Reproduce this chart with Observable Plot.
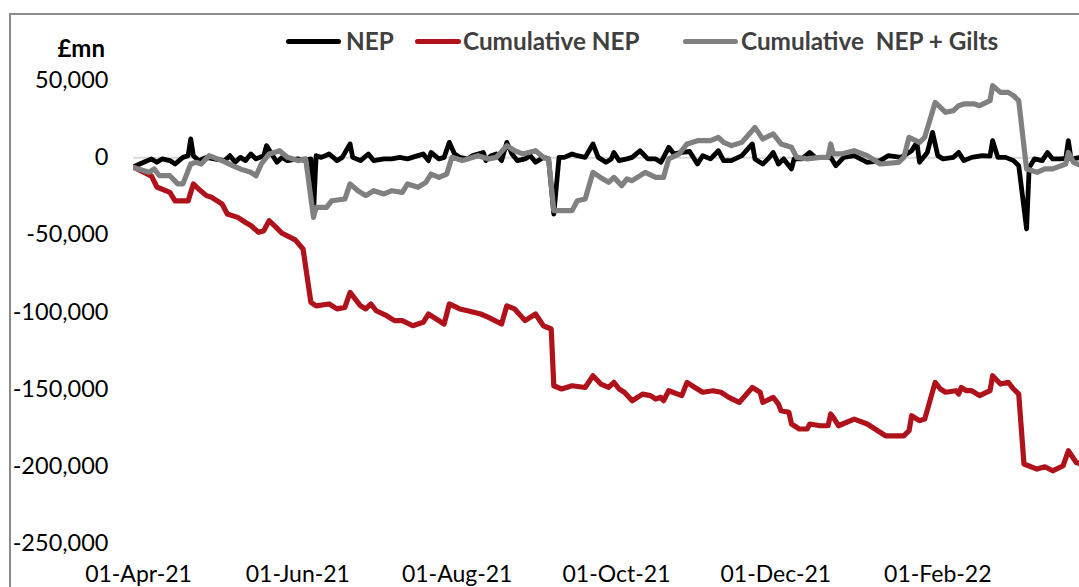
<!DOCTYPE html>
<html>
<head>
<meta charset="utf-8">
<script src="https://cdn.jsdelivr.net/npm/d3@7"></script>
<script src="https://cdn.jsdelivr.net/npm/@observablehq/plot@0.6"></script>
<style>
  body { margin: 0; background: #fff; }
  #wrap { position: relative; width: 1079px; height: 587px; overflow: hidden; font-family: Lato, "Open Sans", sans-serif; }
  #frame { position: absolute; left: 9px; top: 13px; width: 2000px; height: 2000px; border-left: 2px solid #8c8c8c; border-top: 2px solid #8c8c8c; box-sizing: border-box; pointer-events: none; }
  .unit { position: absolute; right: calc(1079px - 105px); top: 34px; font-weight: bold; font-size: 24px; color: #000; line-height: 28px; }
  .leg-line { position: absolute; height: 5px; border-radius: 3px; top: 39px; }
  .leg-text { position: absolute; top: 26px; line-height: 30px; font-weight: bold; font-size: 24.3px; color: #404040; white-space: pre; }
  svg { position: absolute; left: 0; top: 0; }
</style>
</head>
<body>
<div id="wrap">
  <div id="frame"></div>
</div>
<script>
// ---- Data (values in £mn) ----
const nepDates = ["2021-03-30","2021-03-31","2021-04-03","2021-04-06","2021-04-08","2021-04-10","2021-04-13","2021-04-15","2021-04-18","2021-04-20","2021-04-21","2021-04-22","2021-04-24","2021-04-27","2021-04-30","2021-05-04","2021-05-06","2021-05-08","2021-05-10","2021-05-12","2021-05-14","2021-05-16","2021-05-19","2021-05-20","2021-05-22","2021-05-24","2021-05-26","2021-05-28","2021-06-01","2021-06-04","2021-06-06","2021-06-07","2021-06-08","2021-06-10","2021-06-13","2021-06-16","2021-06-18","2021-06-21","2021-06-22","2021-06-25","2021-06-28","2021-06-30","2021-07-04","2021-07-07","2021-07-10","2021-07-13","2021-07-17","2021-07-19","2021-07-21","2021-07-22","2021-07-25","2021-07-27","2021-07-29","2021-07-31","2021-08-02","2021-08-05","2021-08-07","2021-08-11","2021-08-12","2021-08-14","2021-08-16","2021-08-18","2021-08-20","2021-08-22","2021-08-24","2021-08-27","2021-08-29","2021-08-31","2021-09-03","2021-09-05","2021-09-07","2021-09-09","2021-09-11","2021-09-14","2021-09-16","2021-09-19","2021-09-22","2021-09-24","2021-09-27","2021-09-29","2021-09-30","2021-10-02","2021-10-05","2021-10-07","2021-10-10","2021-10-13","2021-10-16","2021-10-18","2021-10-21","2021-10-23","2021-10-26","2021-10-29","2021-11-01","2021-11-03","2021-11-06","2021-11-09","2021-11-11","2021-11-14","2021-11-18","2021-11-22","2021-11-23","2021-11-26","2021-11-28","2021-11-30","2021-12-02","2021-12-04","2021-12-07","2021-12-08","2021-12-11","2021-12-14","2021-12-16","2021-12-22","2021-12-24","2021-12-27","2021-12-31","2022-01-05","2022-01-10","2022-01-13","2022-01-18","2022-01-22","2022-01-24","2022-01-25","2022-01-28","2022-01-30","2022-02-01","2022-02-03","2022-02-07","2022-02-09","2022-02-11","2022-02-14","2022-02-18","2022-02-21","2022-02-22","2022-02-24","2022-02-27","2022-03-02","2022-03-04","2022-03-07","2022-03-08","2022-03-10","2022-03-13","2022-03-15","2022-03-17","2022-03-20","2022-03-22","2022-03-23","2022-03-24","2022-03-28"];
const nepValues = [-6000,-5200,-3000,-800,-3000,-800,-1900,-4100,200,1300,12100,1300,-1900,200,-800,-1900,1300,-3000,200,-1900,2400,-800,1300,7800,2400,-3000,200,-1900,-800,-1900,-800,-36000,1300,200,2400,-1900,200,8900,200,-1900,2400,-1900,-800,-800,200,-800,1300,2400,-1900,3400,-800,200,9900,2400,200,-800,1300,3400,-1900,1300,2400,-1900,9900,2400,-1900,-800,1300,-3000,200,-800,-36500,200,200,2400,1300,200,8900,200,-3000,-800,3400,-1900,-800,200,4500,-800,-800,-3000,6700,2400,3400,4000,-4100,1300,-800,4500,-1900,-1900,1300,8900,-800,-4100,-800,3400,-4100,-800,-7300,-800,-800,3400,200,200,-5200,200,1300,-3000,-1900,1300,200,4500,9900,-3000,3400,16400,1300,-800,200,3400,-1900,200,1300,1000,11000,200,200,-1900,-5200,-46200,-6300,-800,-1900,3400,-800,-800,-500,11000,-800,200];

const cumDates = ["2021-03-30","2021-04-06","2021-04-08","2021-04-13","2021-04-15","2021-04-20","2021-04-22","2021-04-24","2021-04-27","2021-04-29","2021-05-03","2021-05-05","2021-05-09","2021-05-12","2021-05-14","2021-05-17","2021-05-19","2021-05-21","2021-05-23","2021-05-26","2021-05-31","2021-06-03","2021-06-06","2021-06-08","2021-06-13","2021-06-16","2021-06-19","2021-06-21","2021-06-25","2021-06-27","2021-06-29","2021-07-01","2021-07-05","2021-07-08","2021-07-11","2021-07-15","2021-07-19","2021-07-21","2021-07-24","2021-07-27","2021-07-29","2021-08-02","2021-08-05","2021-08-10","2021-08-13","2021-08-18","2021-08-20","2021-08-23","2021-08-27","2021-08-31","2021-09-03","2021-09-06","2021-09-07","2021-09-10","2021-09-14","2021-09-19","2021-09-22","2021-09-25","2021-09-28","2021-09-30","2021-10-02","2021-10-04","2021-10-07","2021-10-11","2021-10-14","2021-10-16","2021-10-18","2021-10-19","2021-10-21","2021-10-26","2021-10-28","2021-10-31","2021-11-03","2021-11-07","2021-11-10","2021-11-13","2021-11-17","2021-11-22","2021-11-25","2021-11-26","2021-11-30","2021-12-02","2021-12-03","2021-12-06","2021-12-07","2021-12-10","2021-12-13","2021-12-14","2021-12-18","2021-12-21","2021-12-22","2021-12-23","2021-12-25","2021-12-31","2022-01-05","2022-01-12","2022-01-19","2022-01-21","2022-01-22","2022-01-25","2022-01-27","2022-01-31","2022-02-02","2022-02-04","2022-02-08","2022-02-09","2022-02-10","2022-02-12","2022-02-14","2022-02-17","2022-02-21","2022-02-22","2022-02-25","2022-02-28","2022-03-02","2022-03-04","2022-03-06","2022-03-11","2022-03-14","2022-03-17","2022-03-21","2022-03-23","2022-03-26","2022-03-28"];
const cumValues = [-6000,-12000,-19000,-22500,-28000,-28000,-17000,-20300,-24600,-25700,-30000,-36500,-38700,-42000,-44000,-48400,-47300,-40800,-44000,-49000,-53300,-59200,-93800,-96000,-94800,-98000,-97000,-87300,-96000,-98000,-94800,-99200,-102400,-105600,-105600,-108900,-106700,-101300,-104500,-107800,-94800,-98000,-99200,-101300,-103500,-107800,-96000,-98000,-105600,-101300,-108900,-111000,-147800,-149900,-147800,-148900,-141300,-146700,-148900,-145600,-149900,-152000,-157500,-153200,-154200,-156400,-155300,-157500,-151000,-154200,-145600,-148900,-152000,-151000,-152000,-155300,-158600,-148900,-152000,-158600,-155300,-159700,-164000,-165000,-172600,-175800,-175800,-172600,-173700,-173700,-166100,-168300,-173700,-169400,-172600,-180200,-180200,-176900,-167200,-170400,-169400,-145600,-149900,-152000,-151000,-153200,-148900,-151000,-151000,-154200,-151000,-141300,-146700,-145600,-149900,-153200,-198500,-201800,-200300,-202900,-199600,-189900,-197500,-198500];

const giltDates = ["2021-03-30","2021-04-05","2021-04-07","2021-04-09","2021-04-13","2021-04-16","2021-04-18","2021-04-21","2021-04-23","2021-04-25","2021-04-28","2021-05-03","2021-05-07","2021-05-10","2021-05-12","2021-05-14","2021-05-16","2021-05-18","2021-05-21","2021-05-23","2021-05-25","2021-05-28","2021-06-01","2021-06-04","2021-06-07","2021-06-08","2021-06-12","2021-06-14","2021-06-19","2021-06-21","2021-06-24","2021-06-27","2021-06-30","2021-07-04","2021-07-07","2021-07-11","2021-07-13","2021-07-17","2021-07-20","2021-07-22","2021-07-25","2021-07-28","2021-07-30","2021-08-03","2021-08-09","2021-08-13","2021-08-16","2021-08-20","2021-08-23","2021-08-26","2021-08-31","2021-09-03","2021-09-05","2021-09-07","2021-09-11","2021-09-14","2021-09-16","2021-09-19","2021-09-22","2021-09-25","2021-09-28","2021-09-30","2021-10-03","2021-10-05","2021-10-07","2021-10-12","2021-10-16","2021-10-19","2021-10-21","2021-10-25","2021-10-28","2021-11-01","2021-11-06","2021-11-09","2021-11-11","2021-11-14","2021-11-18","2021-11-23","2021-11-26","2021-11-30","2021-12-03","2021-12-07","2021-12-09","2021-12-13","2021-12-18","2021-12-21","2021-12-22","2021-12-23","2021-12-26","2021-12-31","2022-01-05","2022-01-10","2022-01-17","2022-01-19","2022-01-21","2022-01-25","2022-01-27","2022-01-31","2022-02-04","2022-02-07","2022-02-09","2022-02-11","2022-02-15","2022-02-17","2022-02-21","2022-02-22","2022-02-25","2022-02-28","2022-03-02","2022-03-04","2022-03-07","2022-03-11","2022-03-14","2022-03-17","2022-03-22","2022-03-23","2022-03-25","2022-03-28"];
const giltValues = [-6300,-9500,-7300,-11700,-11700,-17000,-17000,-4100,-3000,-4100,1300,-1900,-5200,-7300,-8400,-9500,-11700,-4100,2400,3400,4500,200,-1900,-800,-38700,-32200,-32200,-27900,-26800,-17000,-21400,-24600,-21400,-23500,-21400,-22500,-17000,-19200,-16000,-10600,-12800,-10600,200,-1900,1300,-800,200,7800,4500,2400,4500,200,-800,-34300,-34300,-34300,-27900,-26800,-9500,-13000,-16000,-12800,-18100,-13800,-14900,-9500,-12800,-12800,-800,2400,8900,11000,11000,13200,9900,7800,9900,19600,12100,15400,8900,6700,200,-800,200,200,8900,2400,2400,4500,1300,-4100,-3000,200,13200,9900,13200,35800,29400,30500,33700,34800,34800,33700,36900,46700,42300,42300,40200,36900,-7300,-9500,-7300,-7300,-4100,3400,-3000,-5200];

const xTicks = ["2021-04-01","2021-06-01","2021-08-01","2021-10-01","2021-12-01","2022-02-01"];
const yTicks = [-250000,-200000,-150000,-100000,-50000,0,50000];

const seriesNames = ["NEP","Cumulative NEP","Cumulative  NEP + Gilts"];
const seriesColors = ["#000000","#b0121b","#808080"];

// ---- Build tables ----
const parse = d3.utcParse("%Y-%m-%d");
const nep = nepDates.map((d, i) => ({date: parse(d), value: nepValues[i]}));
const cum = cumDates.map((d, i) => ({date: parse(d), value: cumValues[i]}));
const gilt = giltDates.map((d, i) => ({date: parse(d), value: giltValues[i]}));

const chart = Plot.plot({
  width: 1079,
  height: 587,
  marginLeft: 133,
  marginRight: 0,
  marginTop: 80,
  marginBottom: 44,
  style: {fontFamily: "Lato, 'Open Sans', sans-serif", color: "#000", background: "transparent", overflow: "visible"},
  x: {
    type: "utc",
    domain: [new Date(Date.UTC(2021, 2, 30, 2)), new Date(Date.UTC(2022, 2, 27, 6, 15))]
  },
  y: {
    domain: [-250000, 50000]
  },
  marks: [
    Plot.axisY({ticks: yTicks, tickFormat: d => d.toLocaleString("en-US"), tickSize: 0, tickPadding: 25, fontSize: 23.5, label: null}),
    Plot.axisX({ticks: xTicks.map(parse), tickFormat: d3.utcFormat("%d-%b-%y"), tickSize: 0, tickPadding: 22, fontSize: 23, label: null}),
    Plot.ruleY([0], {stroke: "#d9d9d9", strokeWidth: 2}),
    Plot.line(nep, {x: "date", y: "value", stroke: seriesColors[0], strokeWidth: 4.8, strokeLinejoin: "round", clip: true}),
    Plot.line(cum, {x: "date", y: "value", stroke: seriesColors[1], strokeWidth: 5.2, strokeLinejoin: "round", clip: true}),
    Plot.line(gilt, {x: "date", y: "value", stroke: seriesColors[2], strokeWidth: 5.2, strokeLinejoin: "round", clip: true})
  ]
});

const wrap = document.getElementById("wrap");
wrap.insertBefore(chart, wrap.firstChild);

// unit label
const unit = document.createElement("div");
unit.className = "unit";
unit.textContent = "£mn";
wrap.appendChild(unit);

// legend
const legendPos = [{line: 286, lw: 55, text: 346}, {line: 415, lw: 46, text: 463}, {line: 683, lw: 55, text: 741}];
seriesNames.forEach((name, i) => {
  const l = document.createElement("div");
  l.className = "leg-line";
  l.style.left = legendPos[i].line + "px";
  l.style.width = legendPos[i].lw + "px";
  l.style.background = seriesColors[i];
  wrap.appendChild(l);
  const t = document.createElement("div");
  t.className = "leg-text";
  t.style.left = legendPos[i].text + "px";
  t.textContent = name;
  wrap.appendChild(t);
});
</script>
</body>
</html>
